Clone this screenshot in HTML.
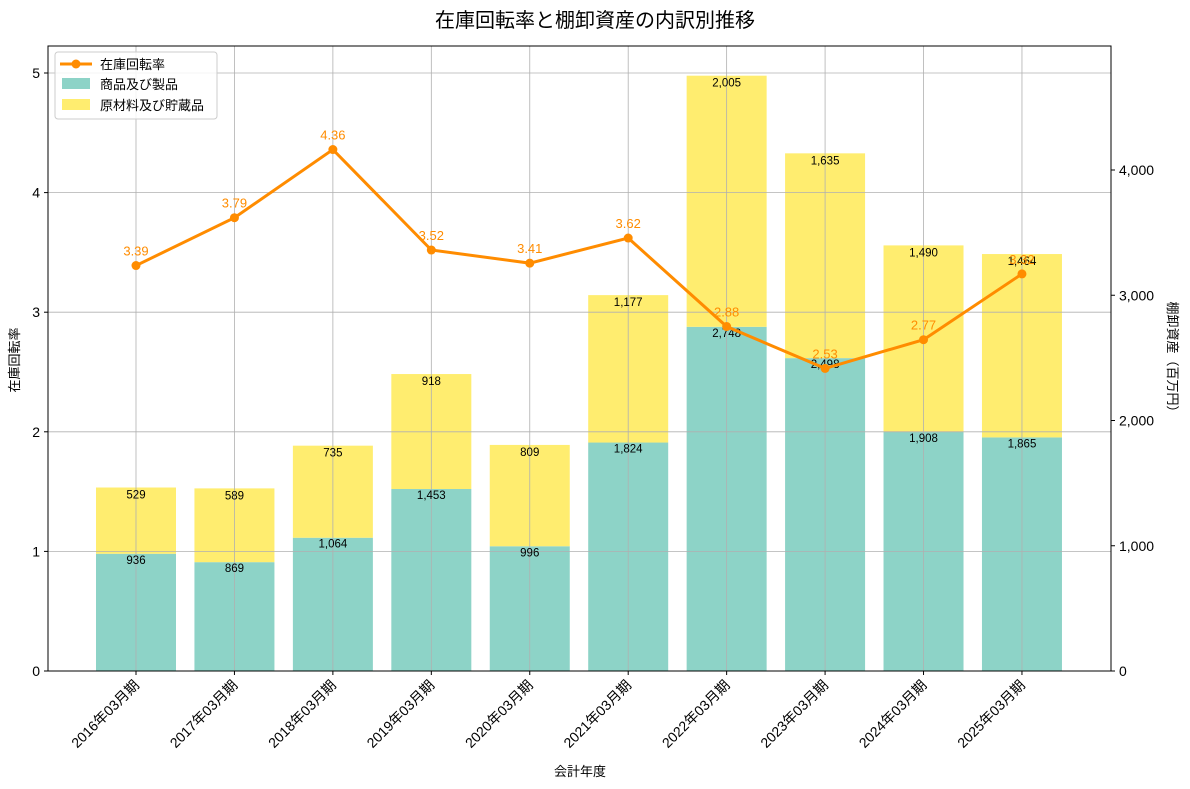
<!DOCTYPE html>
<html><head><meta charset="utf-8"><style>
body{margin:0;background:#fff}
svg{font-family:"Liberation Sans","Noto Sans CJK JP",sans-serif;display:block}
</style></head><body>
<svg id="c" width="1190" height="789"></svg>
<script>
const categories=["2016年03月期","2017年03月期","2018年03月期","2019年03月期","2020年03月期","2021年03月期","2022年03月期","2023年03月期","2024年03月期","2025年03月期"];
const products=[936,869,1064,1453,996,1824,2748,2498,1908,1865];
const materials=[529,589,735,918,809,1177,2005,1635,1490,1464];
const turnover=[3.39,3.79,4.36,3.52,3.41,3.62,2.88,2.53,2.77,3.32];
const leftTicks=[0,1,2,3,4,5];
const rightTicks=[0,1000,2000,3000,4000];
const rightTickLabels=["0","1,000","2,000","3,000","4,000"];

const L=48,R=1111,T=46,B=671;
const xs=i=>136+i*98.44;
const yl=v=>B-v*119.6;
const yr=v=>B-v*0.12525;
const svg=document.getElementById('c');
const NS='http://www.w3.org/2000/svg';
function mk(tag,attrs,parent){const e=document.createElementNS(NS,tag);for(const k in attrs)e.setAttribute(k,attrs[k]);(parent||svg).appendChild(e);return e;}
const fmt=v=>v.toLocaleString('en-US');

// bars
categories.forEach((c,i)=>{
  let r=mk('rect',{x:xs(i)-40,y:yr(products[i]),width:80,height:B-yr(products[i]),fill:'#8dd3c7'});
  
  
  let r2=mk('rect',{x:xs(i)-40,y:yr(products[i]+materials[i]),width:80,height:yr(products[i])-yr(products[i]+materials[i]),fill:'#ffed6f'});
  
  
});
// grid
leftTicks.forEach(v=>{mk('line',{x1:L,x2:R,y1:yl(v),y2:yl(v),stroke:'#b0b0b0','stroke-width':0.8});});
categories.forEach((c,i)=>{mk('line',{x1:xs(i),x2:xs(i),y1:T,y2:B,stroke:'#b0b0b0','stroke-width':0.8});});
// bar labels
categories.forEach((c,i)=>{
  let t=mk('text',{x:xs(i),y:yr(products[i])+10,'text-anchor':'middle','font-size':11.5,fill:'#000'});t.textContent=fmt(products[i]);
  
  
  let t2=mk('text',{x:xs(i),y:yr(products[i]+materials[i])+11,'text-anchor':'middle','font-size':11.5,fill:'#000'});t2.textContent=fmt(materials[i]);
  
  
});
// line
const pl=mk('polyline',{points:turnover.map((v,i)=>xs(i)+','+yl(v)).join(' '),fill:'none',stroke:'#ff8c00','stroke-width':3});


turnover.forEach((v,i)=>{
  let c=mk('circle',{cx:xs(i),cy:yl(v),r:4.5,fill:'#ff8c00'});
  
  
  let t=mk('text',{x:xs(i),y:yl(v)-10,'text-anchor':'middle','font-size':13,fill:'#ff8c00'});t.textContent=v.toFixed(2);
  
  
});
// frame
mk('rect',{x:L,y:T,width:R-L,height:B-T,fill:'none',stroke:'#000','stroke-width':1});
// left ticks
leftTicks.forEach(v=>{
  mk('line',{x1:L-4,x2:L,y1:yl(v),y2:yl(v),stroke:'#000'});
  let t=mk('text',{x:L-8,y:yl(v)+5,'text-anchor':'end','font-size':14});t.textContent=v;
  
  
});
rightTicks.forEach((v,i)=>{
  mk('line',{x1:R,x2:R+4,y1:yr(v),y2:yr(v),stroke:'#000'});
  let t=mk('text',{x:R+8,y:yr(v)+5,'font-size':14});t.textContent=rightTickLabels[i];
  
  
});
categories.forEach((c,i)=>{
  mk('line',{x1:xs(i),x2:xs(i),y1:B,y2:B+4,stroke:'#000'});
  let t=mk('text',{x:xs(i)+4,y:686,'text-anchor':'end','font-size':14,transform:`rotate(-45 ${xs(i)+4} 686)`});t.textContent=c;
  
  
});
</script>
<svg width="0" height="0"></svg>
<div style="position:absolute;left:0;top:0;width:1190px;height:789px;pointer-events:none">
<svg width="1190" height="789" style="font-family:'Liberation Sans','Noto Sans CJK JP',sans-serif">
<text x="595" y="27" text-anchor="middle" font-size="20">在庫回転率と棚卸資産の内訳別推移</text>
<text x="580" y="776" text-anchor="middle" font-size="13">会計年度</text>
<text transform="rotate(-90 19 360)" x="19" y="360" text-anchor="middle" font-size="13">在庫回転率</text>
<text transform="rotate(90 1168 360)" x="1168" y="360" text-anchor="middle" font-size="13">棚卸資産（百万円）</text>
<g>
<rect x="55" y="52" width="162" height="67" fill="#fff" fill-opacity="0.85" stroke="#ccc" rx="3"/>
<line x1="60" x2="92" y1="64" y2="64" stroke="#ff8c00" stroke-width="3"/>
<circle cx="76" cy="64" r="4.5" fill="#ff8c00"/>
<text x="100" y="69" font-size="13">在庫回転率</text>
<rect x="62" y="78" width="28" height="11" fill="#8dd3c7"/>
<text x="100" y="89" font-size="13">商品及び製品</text>
<rect x="62" y="99" width="28" height="11" fill="#ffed6f"/>
<text x="100" y="110" font-size="13">原材料及び貯蔵品</text>
</g>
</svg></div>
</body></html>
